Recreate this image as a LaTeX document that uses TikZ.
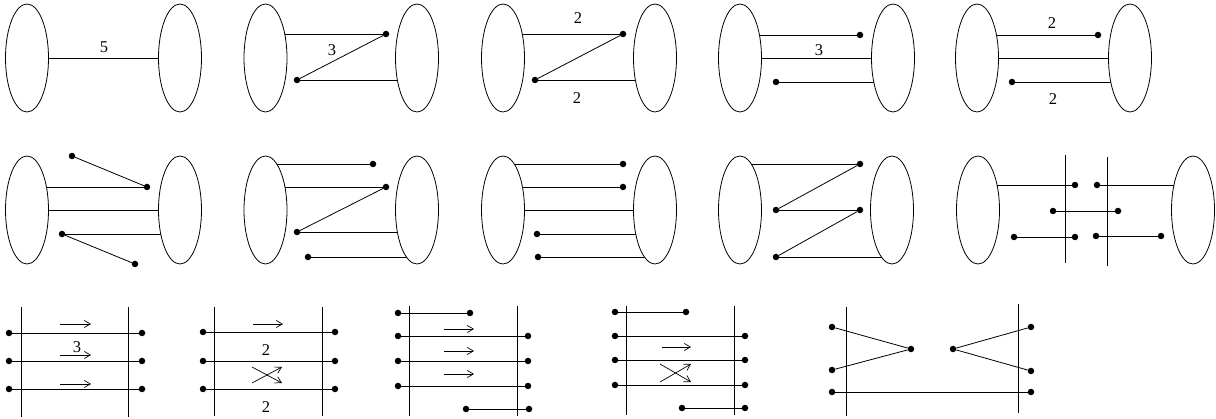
\documentclass[tikz,border=0pt]{standalone}
\usepackage{fontspec}
\setmainfont{Liberation Serif}
\usetikzlibrary{shapes.geometric,arrows.meta,backgrounds}
\tikzset{
  oval/.style={draw,ellipse,fill=white,minimum width=43pt,minimum height=108pt,inner sep=0pt,line width=0.8pt},
  pdot/.style={circle,fill=black,inner sep=0pt,minimum size=6.5pt},
  ln/.style={line width=0.8pt},
  arr/.style={line width=0.7pt,-{Straight Barb[length=6pt,width=7pt]}},
  lbl/.style={inner sep=0pt,font=\fontsize{16.5}{18}\selectfont},
}
\newcommand\pd[2]{\node[pdot] (#1) at (#2) {};}
\begin{document}
\begin{tikzpicture}[x=1pt,y=-1pt]
\useasboundingbox (0,0) rectangle (1216,419);
% ================= Row 1 =================
% panel 1
\node[oval] (L11) at (27,58) {};
\node[oval] (R11) at (180,58) {};
\begin{scope}[on background layer]
\draw[ln] (L11.center) -- (R11.center);
\end{scope}
\node[lbl] (t11) at (104,47) {5};
% panel 2
\node[oval] (L12) at (265.5,58) {};
\node[oval] (R12) at (417,58) {};
\pd{a12}{386,34} \pd{b12}{297,80}
\begin{scope}[on background layer]
\draw[ln] (a12 -| L12.center) -- (a12);
\draw[ln] (a12) -- (b12);
\draw[ln] (b12) -- (b12 -| R12.center);
\end{scope}
\node[lbl] (t12) at (332,50) {3};
% panel 3
\node[oval] (L13) at (503,58) {};
\node[oval] (R13) at (655,58) {};
\pd{a13}{623,34} \pd{b13}{535,80}
\begin{scope}[on background layer]
\draw[ln] (a13 -| L13.center) -- (a13);
\draw[ln] (a13) -- (b13);
\draw[ln] (b13) -- (b13 -| R13.center);
\end{scope}
\node[lbl] (t13a) at (578,18) {2};
\node[lbl] (t13b) at (577,98) {2};
% panel 4
\node[oval] (L14) at (740,58) {};
\node[oval] (R14) at (893,58) {};
\pd{a14}{860,35} \pd{b14}{776,82}
\begin{scope}[on background layer]
\draw[ln] (a14 -| L14.center) -- (a14);
\draw[ln] (L14.center) -- (R14.center);
\draw[ln] (b14) -- (b14 -| R14.center);
\end{scope}
\node[lbl] (t14) at (819,50) {3};
% panel 5
\node[oval] (L15) at (977,58) {};
\node[oval] (R15) at (1130,58) {};
\pd{a15}{1098,35} \pd{b15}{1012,82}
\begin{scope}[on background layer]
\draw[ln] (a15 -| L15.center) -- (a15);
\draw[ln] (L15.center) -- (R15.center);
\draw[ln] (b15) -- (b15 -| R15.center);
\end{scope}
\node[lbl] (t15a) at (1052,23) {2};
\node[lbl] (t15b) at (1053,99) {2};
% ================= Row 2 =================
% panel 1
\node[oval] (L21) at (27,210) {};
\node[oval] (R21) at (180,210) {};
\pd{a21}{72,156} \pd{b21}{147,187} \pd{c21}{62,234} \pd{d21}{135,264}
\begin{scope}[on background layer]
\draw[ln] (a21) -- (b21);
\draw[ln] (b21 -| L21.center) -- (b21);
\draw[ln] (L21.center) -- (R21.center);
\draw[ln] (c21) -- (c21 -| R21.center);
\draw[ln] (c21) -- (d21);
\end{scope}
% panel 2
\node[oval] (L22) at (265.5,210) {};
\node[oval] (R22) at (417,210) {};
\pd{a22}{373,164} \pd{b22}{386,187} \pd{c22}{297,232} \pd{d22}{308,257}
\begin{scope}[on background layer]
\draw[ln] (a22 -| L22.center) -- (a22);
\draw[ln] (b22 -| L22.center) -- (b22);
\draw[ln] (b22) -- (c22);
\draw[ln] (c22) -- (c22 -| R22.center);
\draw[ln] (d22) -- (d22 -| R22.center);
\end{scope}
% panel 3
\node[oval] (L23) at (503,210) {};
\node[oval] (R23) at (655,210) {};
\pd{a23}{623,164} \pd{b23}{623,187} \pd{c23}{537,234} \pd{d23}{538,257}
\begin{scope}[on background layer]
\draw[ln] (a23 -| L23.center) -- (a23);
\draw[ln] (b23 -| L23.center) -- (b23);
\draw[ln] (L23.center) -- (R23.center);
\draw[ln] (c23) -- (c23 -| R23.center);
\draw[ln] (d23) -- (d23 -| R23.center);
\end{scope}
% panel 4
\node[oval] (L24) at (740,210) {};
\node[oval] (R24) at (892,210) {};
\pd{a24}{860,164} \pd{b24}{776,210} \pd{c24}{860,210} \pd{d24}{776,257}
\begin{scope}[on background layer]
\draw[ln] (a24 -| L24.center) -- (a24);
\draw[ln] (a24) -- (b24);
\draw[ln] (b24) -- (c24);
\draw[ln] (c24) -- (d24);
\draw[ln] (d24) -- (d24 -| R24.center);
\end{scope}
% panel 5
\node[oval] (L25) at (978,210) {};
\node[oval] (R25) at (1193,210) {};
\draw[ln] (1065,155) -- (1065,263);
\draw[ln] (1107,157) -- (1107,266);
\pd{a25}{1075,185} \pd{b25}{1097,185} \pd{c25}{1053,211} \pd{d25}{1118,211}
\pd{e25}{1014,237} \pd{f25}{1075,237} \pd{g25}{1096,236} \pd{h25}{1161,236}
\begin{scope}[on background layer]
\draw[ln] (a25 -| L25.center) -- (a25);
\draw[ln] (b25) -- (b25 -| R25.center);
\draw[ln] (c25) -- (d25);
\draw[ln] (e25) -- (f25);
\draw[ln] (g25) -- (h25);
\end{scope}
% ================= Row 3 =================
% panel 1
\draw[ln] (21,307) -- (21,417);
\draw[ln] (128,307) -- (128,417);
\foreach \y [count=\i] in {333,361,389} {
  \pd{p31l\i}{9,\y} \pd{p31r\i}{142,\y}
  \draw[ln] (p31l\i) -- (p31r\i);
}
\foreach \y in {324,355,384} \draw[arr] (60,\y) -- (91,\y);
\node[lbl] (t31) at (77,347) {3};
% panel 2
\draw[ln] (214,307) -- (214,416);
\draw[ln] (322,307) -- (322,416);
\foreach \y [count=\i] in {332,361,389} {
  \pd{p32l\i}{203,\y} \pd{p32r\i}{335,\y}
  \draw[ln] (p32l\i) -- (p32r\i);
}
\draw[arr] (253,324) -- (283,324);
\draw[arr] (252,367) -- (282,383);
\draw[arr] (252,383) -- (282,367);
\node[lbl] (t32a) at (266,350) {2};
\node[lbl] (t32b) at (266,407) {2};
% panel 3
\draw[ln] (409,306) -- (409,416);
\draw[ln] (517,306) -- (517,416);
\pd{p33a}{398,313} \pd{p33b}{470,313}
\draw[ln] (p33a) -- (p33b);
\foreach \y [count=\i] in {336,361,386} {
  \pd{p33l\i}{398,\y} \pd{p33r\i}{528,\y}
  \draw[ln] (p33l\i) -- (p33r\i);
}
\pd{p33c}{466,409} \pd{p33d}{529,409}
\draw[ln] (p33c) -- (p33d);
\foreach \y in {329,351,374} \draw[arr] (444,\y) -- (474,\y);
% panel 4
\draw[ln] (626,306) -- (626,415);
\draw[ln] (734,306) -- (734,415);
\pd{p34a}{615,312} \pd{p34b}{686,312}
\draw[ln] (p34a) -- (p34b);
\foreach \y [count=\i] in {336,360,385} {
  \pd{p34l\i}{615,\y} \pd{p34r\i}{745,\y}
  \draw[ln] (p34l\i) -- (p34r\i);
}
\pd{p34c}{682,408} \pd{p34d}{745,408}
\draw[ln] (p34c) -- (p34d);
\draw[arr] (662,347) -- (691,347);
\draw[arr] (660,364) -- (691,382);
\draw[arr] (660,382) -- (691,364);
% panel 5
\draw[ln] (846,307) -- (846,416);
\draw[ln] (1018,304) -- (1018,413);
\pd{a35}{832,327} \pd{b35}{911,349} \pd{c35}{832,370} \pd{d35}{953,349}
\pd{e35}{1031,327} \pd{f35}{1031,371} \pd{g35}{832,392} \pd{h35}{1031,392}
\draw[ln] (a35) -- (b35);
\draw[ln] (c35) -- (b35);
\draw[ln] (d35) -- (e35);
\draw[ln] (d35) -- (f35);
\draw[ln] (g35) -- (h35);
\end{tikzpicture}
\end{document}
